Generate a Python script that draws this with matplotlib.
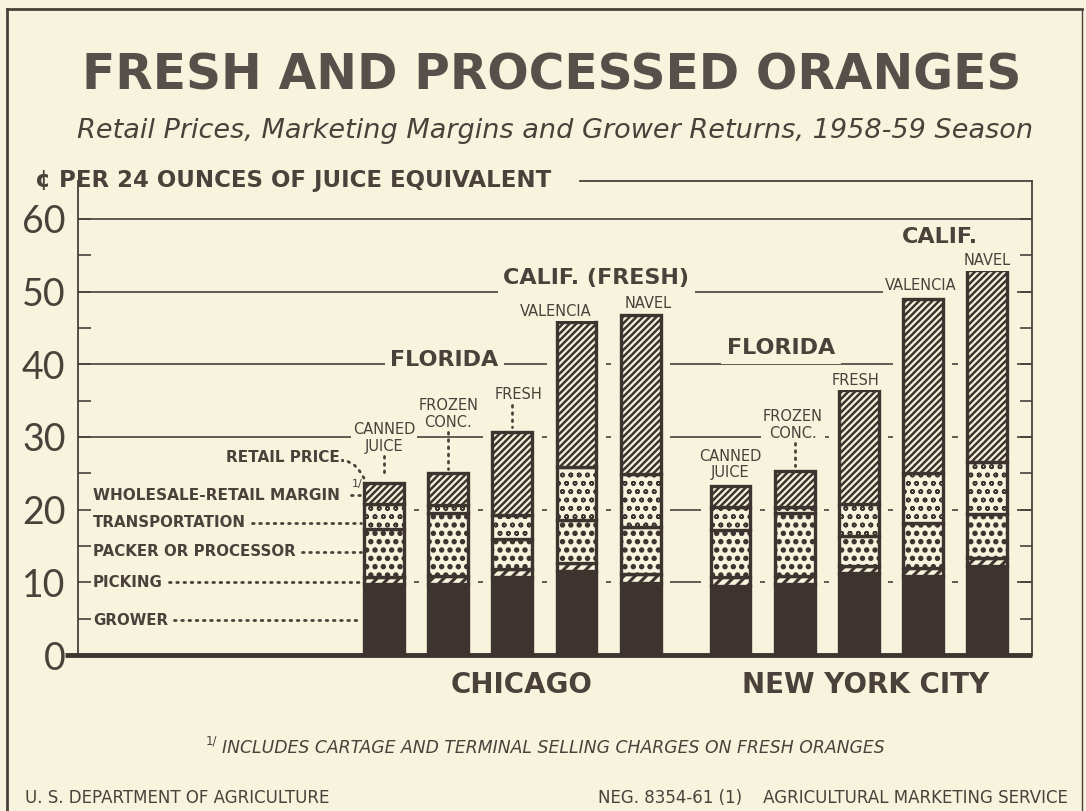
import numpy as np
import matplotlib.pyplot as plt
import matplotlib.hatch
from matplotlib.lines import Line2D

plt.rcParams['font.family'] = ['DejaVu Sans']
# bigger filled dots for the packer/processor pattern
matplotlib.hatch.SmallFilledCircles.size = 0.24

# cents per 24 ounces of juice equivalent, 1958-59 season
cities = ['CHICAGO', 'NEW YORK CITY']
products = ['CANNED\nJUICE', 'FROZEN\nCONC.', 'FRESH', 'VALENCIA', 'NAVEL']
# order: Chicago canned, frozen, fresh, valencia, navel, then New York same
grower = [9.7, 9.7, 10.7, 11.6, 9.9, 9.5, 9.7, 11.3, 10.9, 12.3]
picking = [1.0, 1.1, 1.1, 1.1, 1.3, 1.2, 1.2, 1.0, 1.1, 1.1]
packer = [6.6, 8.7, 4.1, 5.9, 6.4, 6.5, 8.7, 4.1, 6.1, 6.0]
transport = [3.5, 1.2, 3.4, 7.2, 7.3, 3.1, 0.8, 4.4, 7.0, 7.1]
margin = [2.9, 4.4, 11.4, 20.0, 21.9, 3.0, 4.9, 15.6, 23.9, 26.4]
yticks = [0, 10, 20, 30, 40, 50, 60]

bg = '#f7f3dd'
ink = '#4a413b'
dark = '#3d3430'

W, H = 1086, 811
fig = plt.figure(figsize=(W / 100, H / 100), dpi=100, facecolor=bg)
ax = fig.add_axes([78 / W, 1 - 655 / H, 954 / W, 474 / H])
ax.set_facecolor(bg)

x = np.r_[np.arange(5), np.arange(5) + 5.4]
w = 0.62
xmin, xmax = -4.77, 10.1
ax.set_xlim(xmin, xmax)
ax.set_ylim(0, 65.2)

segs = [
    (grower, dict(color=dark)),
    (picking, dict(facecolor=bg, hatch='///', lw_h=2.2)),
    (packer, dict(facecolor=bg, hatch='..', lw_h=1.0)),
    (transport, dict(facecolor=bg, hatch='oo', lw_h=1.1)),
    (margin, dict(facecolor=bg, hatch='/////', lw_h=1.8)),
]

totals = np.sum([s[0] for s in segs], axis=0)

# mask behind bars so grid lines stop short of them
ax.bar(x, totals, width=w + 0.3, color=bg, lw=0, zorder=2)

bottom = np.zeros(len(x))
for vals, st in segs:
    st = dict(st)
    lwh = st.pop('lw_h', None)
    bars = ax.bar(x, vals, bottom=bottom, width=w, edgecolor=dark, linewidth=2.4, zorder=3, **st)
    if lwh is not None:
        for b in bars:
            try:
                b.set_hatch_linewidth(lwh)
            except AttributeError:
                pass
    bottom += np.array(vals)

# grid lines
for v in [30, 40, 50, 60]:
    ax.axhline(v, color=ink, lw=1.2, zorder=1)
for v in [10, 20]:
    ax.hlines(v, x[0] - w / 2, xmax, color=ink, lw=1.2, zorder=1)

ax.set_xticks([])
ax.set_yticks(yticks)
ax.set_yticklabels([str(v) for v in yticks], fontfamily='Lato', fontsize=27, color=ink)
ax.set_yticks([5, 15, 25, 35, 45, 55], minor=True)
ax.tick_params(which='both', direction='in', length=9, width=1.2, color=ink,
               left=True, right=True, pad=9)
for s in ['left', 'right', 'top']:
    ax.spines[s].set_color(ink)
    ax.spines[s].set_linewidth(1.3)
ax.spines['top'].set_bounds(3.05, xmax)
ax.spines['bottom'].set_visible(False)
ax.plot([-4.98, xmax], [0, 0], color=dark, lw=3.5, clip_on=False, zorder=4, solid_capstyle='butt')

box = dict(facecolor=bg, edgecolor='none', pad=1.5)
ax.text(-0.045, 1.0, '¢ PER 24 OUNCES OF JUICE EQUIVALENT', transform=ax.transAxes,
        ha='left', va='center', fontsize=16.5, fontweight='bold', color=ink)

# product labels
lab_pos = [(0.0, 29.9), (1.0, 33.2), (2.09, 35.9), (2.68, 47.2), (4.12, 48.3),
           (5.4, 26.2), (6.37, 31.6), (7.35, 37.8), (8.36, 50.8), (9.4, 54.2)]
for i, (lx, ly) in enumerate(lab_pos):
    ax.text(lx, ly, products[i % 5], ha='center', va='center', fontsize=10.5,
            color=ink, linespacing=1.15, bbox=box, zorder=5)

# dotted leaders from labels to bar tops
dot = dict(color=ink, lw=2, ls=(0, (0.6, 2.0)), dash_capstyle='round', zorder=5)
ax.plot([0, 0], [27.4, 24.5], **dot)
ax.plot([1, 1], [30.7, 25.6], **dot)
ax.plot([2, 2], [34.4, 31.3], **dot)
ax.plot([6.4, 6.4], [29.2, 26.0], **dot)

# group labels
grp = dict(ha='center', va='center', fontsize=16, fontweight='bold', color=ink,
           bbox=dict(facecolor=bg, edgecolor='none', pad=4), zorder=5)
ax.text(0.94, 40.6, 'FLORIDA', **grp)
ax.text(3.31, 51.9, 'CALIF. (FRESH)', **grp)
ax.text(6.19, 42.2, 'FLORIDA', **grp)
ax.text(8.67, 57.5, 'CALIF.', **grp)

# component legend on the left
leg = dict(ha='left', va='center', fontsize=10.8, fontweight='bold', color=ink, zorder=5)
ax.text(-0.6, 27.2, 'RETAIL PRICE.', ha='right', va='center', fontsize=11, fontweight='bold', color=ink)
ax.plot([-0.56, -0.46, -0.38, -0.31], [26.6, 26.1, 25.3, 24.3], **dot)
ax.text(-4.54, 22.0, 'WHOLESALE-RETAIL MARGIN', ha='left', va='center', fontsize=11.1,
        fontweight='bold', color=ink, zorder=5)
ax.text(-0.42, 23.5, '1/', fontsize=8, color=ink, ha='center', va='center')
ax.plot([-0.52, -0.36], [22.0, 22.0], **dot)
comp = [('TRANSPORTATION', 18.2), ('PACKER OR PROCESSOR', 14.2), ('PICKING', 10.0), ('GROWER', 4.8)]
comp_txt = [ax.text(-4.54, yy, name, **leg) for name, yy in comp]

# city labels
ax.text(2.15, -4.1, cities[0], ha='center', va='center', fontsize=20, fontweight='bold', color=ink, clip_on=False)
ax.text(7.5, -4.1, cities[1], ha='center', va='center', fontsize=20, fontweight='bold', color=ink, clip_on=False)

# titles
fig.text(552 / W, 1 - 75 / H, 'FRESH AND PROCESSED ORANGES', ha='center', va='center',
         fontsize=35, fontweight='bold', color='#574f49')
fig.text(555 / W, 1 - 131 / H, 'Retail Prices, Marketing Margins and Grower Returns, 1958-59 Season',
         ha='center', va='center', fontsize=19.5, style='italic', color=ink)

# footnote and credits
fig.text(211 / W, 1 - 741 / H, '1/', fontsize=8.5, color=ink, ha='center', va='center')
fig.text(222 / W, 1 - 748 / H, 'INCLUDES CARTAGE AND TERMINAL SELLING CHARGES ON FRESH ORANGES',
         fontsize=12.4, style='italic', color=ink, ha='left', va='center')
fig.text(25 / W, 1 - 798 / H, 'U. S. DEPARTMENT OF AGRICULTURE', fontsize=12, color=ink, ha='left', va='center')
fig.text(1068 / W, 1 - 798 / H, 'NEG. 8354-61 (1)    AGRICULTURAL MARKETING SERVICE',
         fontsize=12, color=ink, ha='right', va='center')

# outer frame
fig.add_artist(Line2D([7 / W, 1082 / W], [1 - 9 / H, 1 - 9 / H], color=ink, lw=2))
fig.add_artist(Line2D([7 / W, 7 / W], [0, 1 - 9 / H], color=ink, lw=2))
fig.add_artist(Line2D([1082 / W, 1082 / W], [0, 1 - 9 / H], color=ink, lw=1))

# dotted leaders from component names to the first bar
fig.canvas.draw()
inv = ax.transData.inverted()
for t, (name, yy) in zip(comp_txt, comp):
    ext = t.get_window_extent()
    x0 = inv.transform((ext.x1 + 6, 0))[0]
    ax.plot([x0, x[0] - w / 2 - 0.05], [yy, yy], **dot)

fig.savefig('out.png', dpi=100, facecolor=bg)
